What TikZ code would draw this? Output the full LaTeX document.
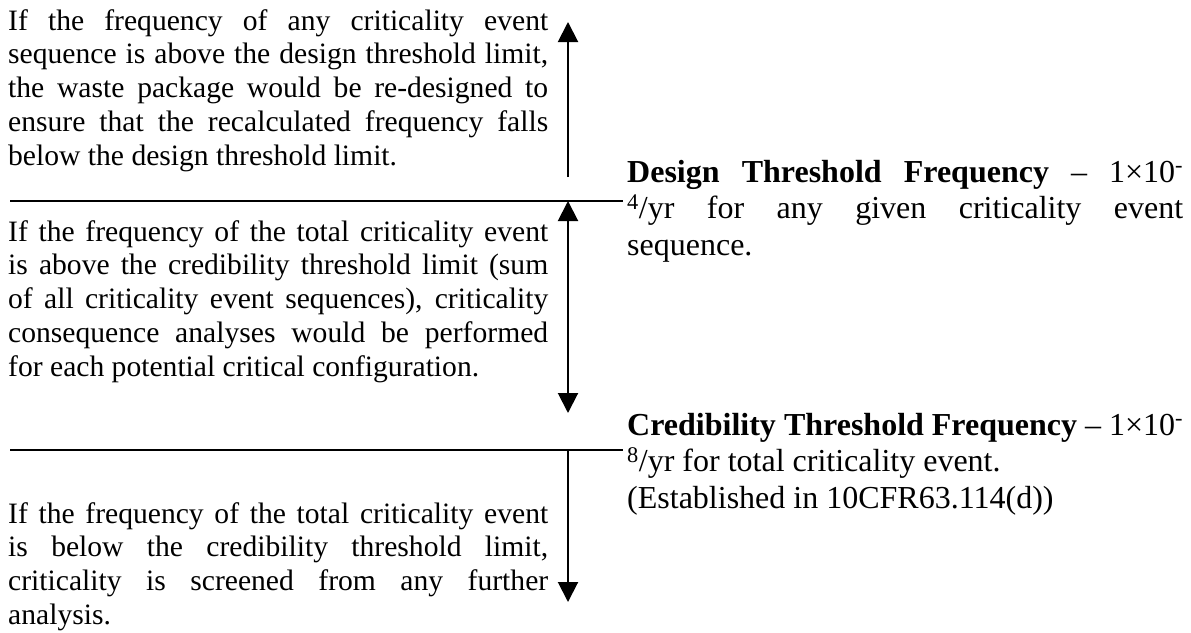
\documentclass[tikz,border=0pt]{standalone}
\usepackage{fontspec}
\setmainfont{Liberation Serif}
\usetikzlibrary{arrows.meta}
\newcommand{\jl}[1]{{\spaceskip=0pt\xspaceskip=0pt\makebox[540pt][s]{#1}}}
\newcommand{\jr}[1]{{\spaceskip=0pt\xspaceskip=0pt\makebox[556pt][s]{#1}}}
\begin{document}
\begin{tikzpicture}[x=1pt,y=-1pt,
  txt/.style={anchor=base west,inner sep=0pt,align=left,
    execute at begin node={\spaceskip=0pt\xspaceskip=0pt\relax}},
  ltxt/.style={txt,text width=540pt,font=\fontsize{29.6}{33.8}\selectfont},
  rtxt/.style={txt,text width=556pt,font=\fontsize{32}{36.8}\selectfont},
  rule/.style={line width=1.8pt},
  arr/.style={line width=2pt,-{Triangle[width=20pt,length=20pt]}},
  darr/.style={line width=2pt,{Triangle[width=20pt,length=20pt]}-{Triangle[width=20pt,length=20pt]}}]
\useasboundingbox (0,0) rectangle (1191,632);
% left text blocks
\node[ltxt] (b1) at (8,30) {%
\jl{If the frequency of any criticality event}\\
\jl{sequence is above the design threshold limit,}\\
\jl{the waste package would be re-designed to}\\
\jl{ensure that the recalculated frequency falls}\\
below the design threshold limit.};
\node[ltxt] (b2) at (8,241) {%
\jl{If the frequency of the total criticality event}\\
\jl{is above the credibility threshold limit (sum}\\
\jl{of all criticality event sequences), criticality}\\
\jl{consequence analyses would be performed}\\
for each potential critical configuration.};
\node[ltxt] (b3) at (8,523) {%
\jl{If the frequency of the total criticality event}\\
\jl{is below the credibility threshold limit,}\\
\jl{criticality is screened from any further}\\
analysis.};
% right text blocks
\node[rtxt] (r1) at (627,182) {%
\jr{\textbf{Design Threshold Frequency} – 1×10\textsuperscript{-}}\\
\jr{\textsuperscript{4}/yr for any given criticality event}\\
sequence.};
\node[rtxt] (r2) at (627,435) {%
\jr{\textbf{Credibility Threshold Frequency} – 1×10\textsuperscript{-}}\\
\textsuperscript{8}/yr for total criticality event.\\
(Established in 10CFR63.114(d))};
% threshold lines
\coordinate (l1a) at (10,201);
\coordinate (l1b) at (623,201);
\coordinate (l2a) at (10,450);
\coordinate (l2b) at (623,450);
\draw[rule] (l1a) -- (l1b);
\draw[rule] (l2a) -- (l2b);
% arrows
\coordinate (a1s) at (568,177);
\coordinate (a1e) at (568,22);
\coordinate (a2s) at (568,201);
\coordinate (a2e) at (568,413);
\coordinate (a3s) at (568,450);
\coordinate (a3e) at (568,602);
\draw[arr] (a1s) -- (a1e);
\draw[darr] (a2s) -- (a2e);
\draw[arr] (a3s) -- (a3e);
\end{tikzpicture}
\end{document}
